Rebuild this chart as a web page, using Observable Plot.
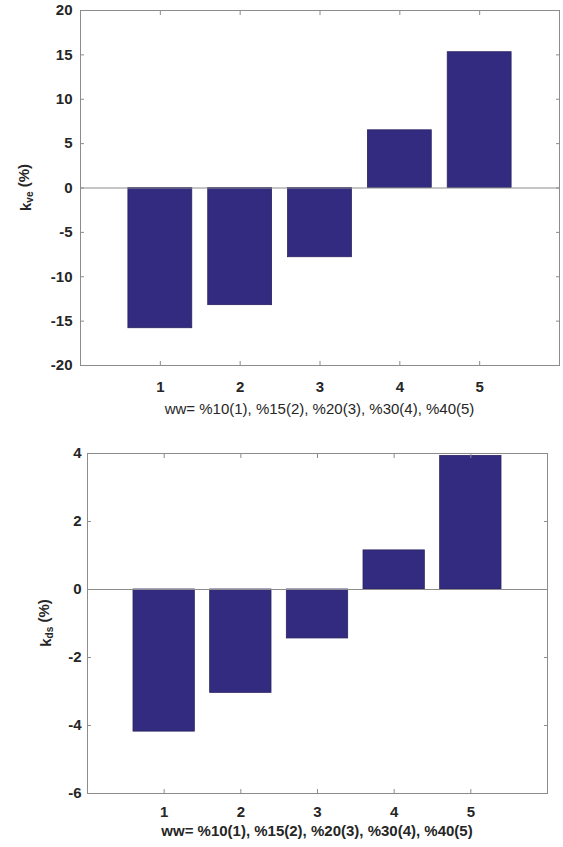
<!DOCTYPE html>
<html><head><meta charset="utf-8">
<script src="https://cdn.jsdelivr.net/npm/d3@7"></script>
<script src="https://cdn.jsdelivr.net/npm/@observablehq/plot@0.6"></script>
<style>
body{margin:0;background:#fff;}
#wrap{position:relative;width:563px;height:847px;}
#top,#bot{position:absolute;left:0;}
#top{top:0}
#bot{top:430px}
</style></head><body>
<div id="wrap"><div id="top"></div><div id="bot"></div></div>
<script>
// ---- data ----
const cases = [1, 2, 3, 4, 5];
const kve = [-15.8, -13.2, -7.8, 6.5, 15.3];
const kds = [-4.18, -3.04, -1.44, 1.15, 3.93];
const xTitle = "ww= %10(1), %15(2), %20(3), %30(4), %40(5)";
const topTicks = [-20, -15, -10, -5, 0, 5, 10, 15, 20];
const botTicks = [-6, -4, -2, 0, 2, 4];
const barWidth = 0.8;

const gray = "#8c8c8c";
const ink = "#262626";
const font = "'Liberation Sans', Arial, sans-serif";
const fmt = d => String(d);

function panel(opts) {
  const data = cases.map((c, i) => ({c, v: opts.values[i]}));
  const ticks = opts.ticks;
  const plot = Plot.plot({
    width: 563,
    height: opts.height,
    marginLeft: opts.ml, marginRight: opts.mr, marginTop: opts.mt, marginBottom: opts.mb,
    style: {fontFamily: font, fontSize: "15px", color: ink, fontWeight: opts.bold ? "bold" : "normal", background: "#fff"},
    x: {domain: [0, 6]},
    y: {domain: [ticks[0], ticks[ticks.length - 1]]},
    marks: [
      Plot.rectY(data, {x1: d => d.c - barWidth / 2, x2: d => d.c + barWidth / 2, y1: 0, y2: "v",
        fill: "#332b80", stroke: "#29235f", strokeWidth: 0.8}),
      Plot.ruleY([0], {stroke: gray}),
      Plot.frame({stroke: gray}),
      Plot.axisX({ticks: cases, tickSize: 0, tickPadding: opts.xPad, tickFormat: fmt, label: null, fontWeight: "bold"}),
      Plot.axisX({ticks: cases, anchor: "bottom", tickSize: -4, tickFormat: () => "", label: null, stroke: gray}),
      Plot.axisX({ticks: cases, anchor: "top", tickSize: -4, tickFormat: () => "", label: null, stroke: gray}),
      Plot.axisY({ticks, tickSize: 0, tickPadding: opts.yPad, tickFormat: fmt, label: null, fontWeight: "bold"}),
      Plot.axisY({ticks, anchor: "left", tickSize: -4, tickFormat: () => "", label: null, stroke: gray}),
      Plot.axisY({ticks, anchor: "right", tickSize: -4, tickFormat: () => "", label: null, stroke: gray})
    ]
  });
  const svg = d3.select(plot);
  const xs = plot.scale("x"), ys = plot.scale("y");
  const xr = xs.range, yr = ys.range;
  // x title
  svg.append("text")
    .attr("x", (xr[0] + xr[1]) / 2)
    .attr("y", yr[0] + opts.titleOff)
    .attr("text-anchor", "middle")
    .attr("dominant-baseline", "central")
    .attr("fill", ink)
    .style("font-family", font).style("font-size", "15px")
    .style("font-weight", opts.bold ? "bold" : "normal")
    .text(xTitle);
  // y label with subscript
  const yl = svg.append("text")
    .attr("transform", `translate(${opts.ylx},${(yr[0] + yr[1]) / 2}) rotate(-90)`)
    .attr("text-anchor", "middle")
    .attr("dominant-baseline", "central")
    .attr("fill", ink)
    .style("font-family", font).style("font-size", "15px").style("font-weight", "bold");
  yl.append("tspan").text("k");
  yl.append("tspan").attr("dy", "0.35em").style("font-size", "10px").text(opts.sub);
  yl.append("tspan").attr("dy", "-0.35em").text(" (%)");
  return plot;
}

document.getElementById("top").append(panel({
  values: kve, ticks: topTicks, height: 430,
  ml: 80, mr: 4, mt: 10, mb: 65,
  xPad: 16, yPad: 8, titleOff: 43, ylx: 25, sub: "ve", bold: false
}));
document.getElementById("bot").append(panel({
  values: kds, ticks: botTicks, height: 417,
  ml: 87, mr: 16, mt: 23, mb: 54,
  xPad: 13, yPad: 6, titleOff: 37, ylx: 45, sub: "ds", bold: true
}));
</script>
</body></html>
